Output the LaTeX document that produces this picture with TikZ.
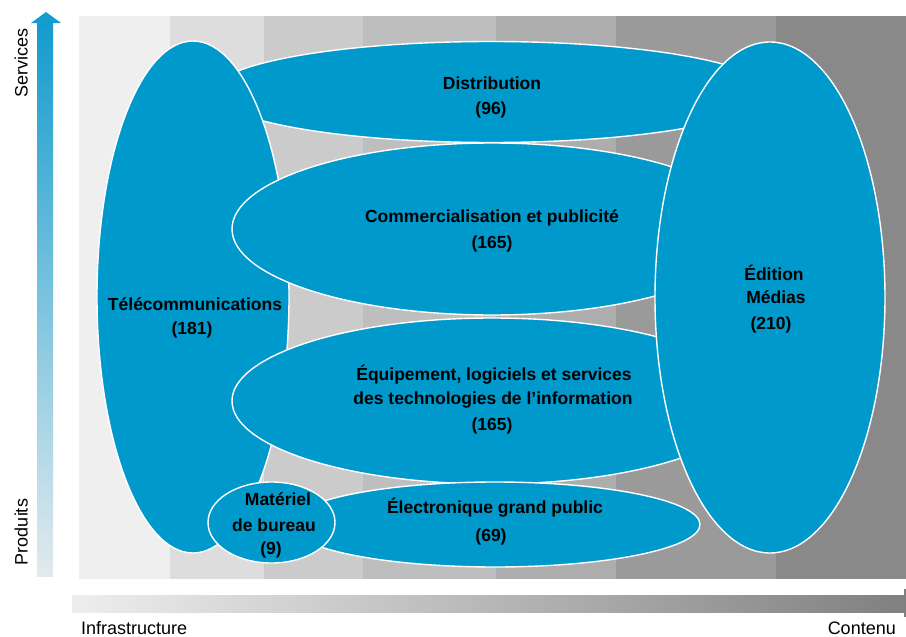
\documentclass[tikz,border=0pt]{standalone}
\usepackage{fontspec}
\setmainfont{Liberation Sans}
\usetikzlibrary{shapes.geometric}
\definecolor{cblue}{RGB}{0,153,204}
\definecolor{bandA}{RGB}{239,239,239}
\definecolor{bandB}{RGB}{221,221,221}
\definecolor{bandC}{RGB}{203,203,203}
\definecolor{bandD}{RGB}{190,190,190}
\definecolor{bandE}{RGB}{173,173,173}
\definecolor{bandF}{RGB}{154,154,154}
\definecolor{bandG}{RGB}{137,137,137}
\definecolor{arrowtop}{RGB}{20,156,206}
\definecolor{arrowmid}{RGB}{120,196,226}
\definecolor{arrowbot}{RGB}{226,234,238}
\definecolor{barleft}{RGB}{238,238,238}
\definecolor{barright}{RGB}{128,128,128}
\begin{document}
\begin{tikzpicture}[x=1pt,y=-1pt,
  blob/.style={ellipse, fill=cblue, draw=white, line width=1.4pt, inner sep=0pt, outer sep=0pt},
  lbl/.style={font=\fontsize{17.5}{21}\selectfont\bfseries, inner sep=0pt, text height=12.5pt, text depth=0pt},
  axl/.style={font=\fontsize{18}{21}\selectfont, inner sep=0pt, text height=13pt, text depth=0pt}]
\useasboundingbox (0,0) rectangle (906,637);
\fill[white] (0,0) rectangle (906,637);
% background bands
\fill[bandA] (79,16) rectangle (170,579);
\fill[bandB] (170,16) rectangle (264,579);
\fill[bandC] (264,16) rectangle (363,579);
\fill[bandD] (363,16) rectangle (496,579);
\fill[bandE] (496,16) rectangle (616,579);
\fill[bandF] (616,16) rectangle (776,579);
\fill[bandG] (776,16) rectangle (906,579);
% vertical axis arrow
\shade[top color=arrowtop, middle color=arrowmid, bottom color=arrowbot] (37,23) rectangle (53,576);
\fill[arrowtop] (31,23) -- (46,12) -- (61,23) -- cycle;
\node[axl, rotate=90] (serv) at (21,63) {Services};
\node[axl, rotate=90] (prod) at (21,532) {Produits};
% horizontal axis bar
\shade[left color=barleft, right color=barright] (72,595) rectangle (906,612);
\draw[barright, line width=1.2pt] (905,589) -- (905,617);
\node[axl, anchor=west] (infra) at (81,628) {Infrastructure};
\node[axl, anchor=east] (cont) at (896,628) {Contenu};
% ellipses
\node[blob, minimum width=556pt, minimum height=101pt] (dist) at (491,92) {};
\node[blob, minimum width=192pt, minimum height=512pt] (tele) at (193,297) {};
\node[blob, minimum width=520pt, minimum height=172pt] (comm) at (492,229) {};
\node[blob, minimum width=520pt, minimum height=166pt] (equip) at (492,401) {};
\node[blob, minimum width=410pt, minimum height=85pt] (elec) at (495,524.5) {};
\node[blob, minimum width=127pt, minimum height=81pt] (mat) at (271.5,522.5) {};
\node[blob, minimum width=230pt, minimum height=511pt] (edit) at (770,297.5) {};
% labels
\node[lbl] (distA) at (492,83.5) {Distribution};
\node[lbl] (distB) at (491,108) {(96)};
\node[lbl] (commA) at (492,216.5) {Commercialisation et publicité};
\node[lbl] (commB) at (492,242) {(165)};
\node[lbl] (equipA) at (494,374) {Équipement, logiciels et services};
\node[lbl] (equipB) at (493,398.5) {des technologies de l'information};
\node[lbl] (equipC) at (492,424) {(165)};
\node[lbl] (teleA) at (195,304) {Télécommunications};
\node[lbl] (teleB) at (192,328) {(181)};
\node[lbl] (editA) at (774,274) {Édition};
\node[lbl] (editB) at (776,297.5) {Médias};
\node[lbl] (editC) at (771,323) {(210)};
\node[lbl] (matA) at (278,499.5) {Matériel};
\node[lbl] (matB) at (274,525) {de bureau};
\node[lbl] (matC) at (271,548) {(9)};
\node[lbl] (elecA) at (495,507) {Électronique grand public};
\node[lbl] (elecB) at (491,535.5) {(69)};
\end{tikzpicture}
\end{document}
